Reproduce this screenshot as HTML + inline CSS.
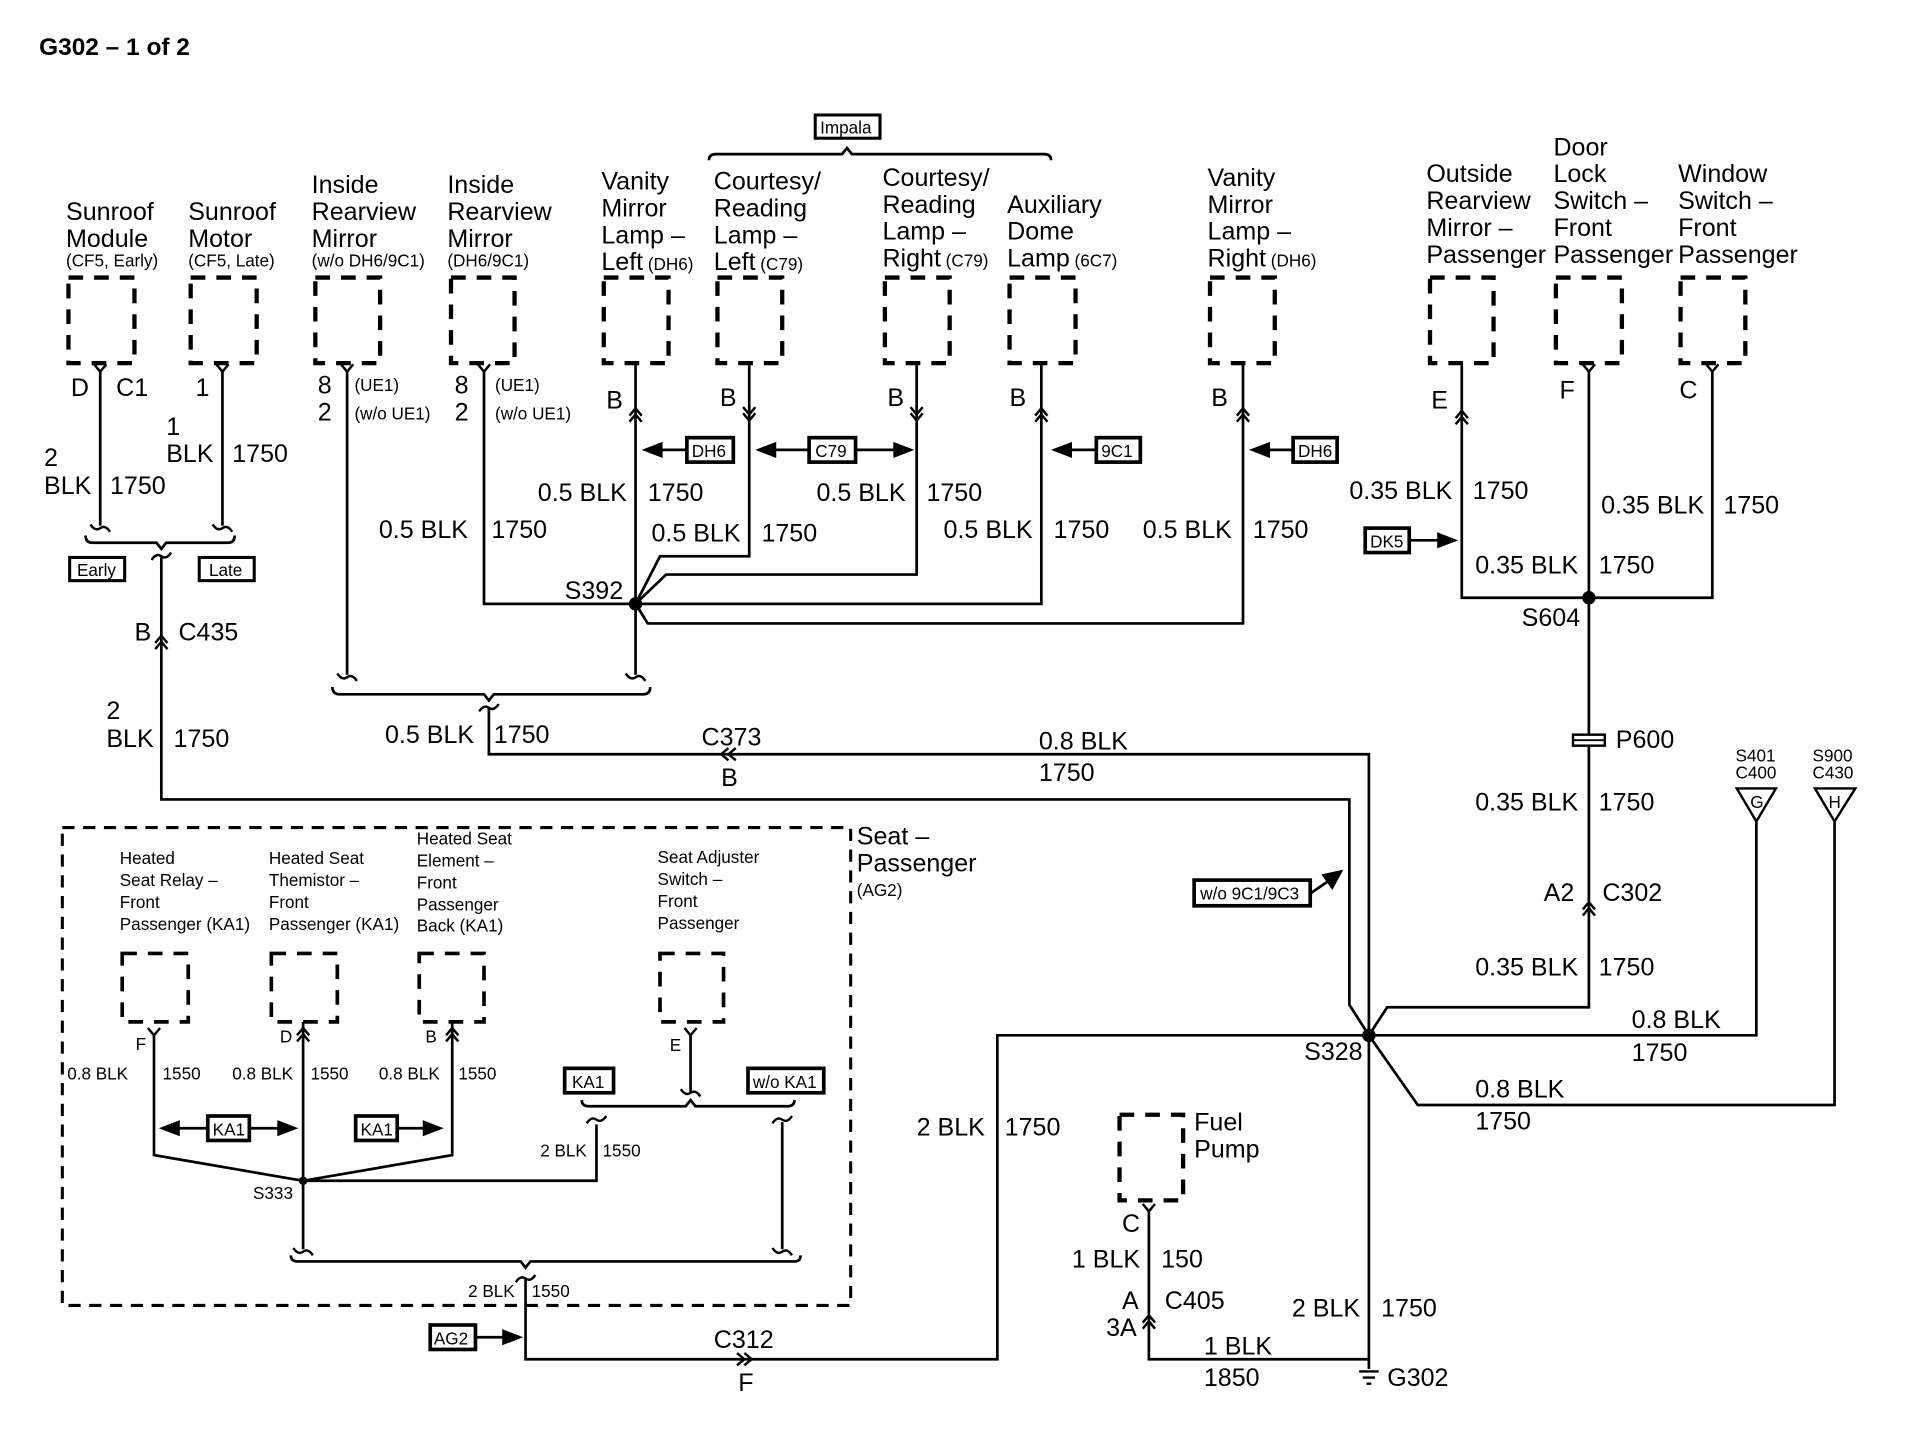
<!DOCTYPE html>
<html><head><meta charset="utf-8"><style>
html,body{margin:0;padding:0;background:#fff}
svg{display:block}
text{font-family:"Liberation Sans",Arial,sans-serif;fill:#000}
.t{font-size:20.5px}
.s{font-size:14px}
.m{font-size:14px}
.b{font-weight:bold;font-size:20px}
.w{fill:none;stroke:#000;stroke-width:2.2}
.d{fill:none;stroke:#000;stroke-width:3.5;stroke-dasharray:12 9}
.x{fill:#fff;stroke:#000;stroke-width:3}
</style></head><body>
<svg width="1914" height="1440" viewBox="0 0 1566 1178" xmlns="http://www.w3.org/2000/svg">
<defs>
<path id="up" d="M-5 7 L0 1 L5 7 M-5 12 L0 6 L5 12" fill="none" stroke="#000" stroke-width="2"/>
<path id="dn" d="M-5 -7 L0 -1 L5 -7 M-5 -12 L0 -6 L5 -12" fill="none" stroke="#000" stroke-width="2"/>
<path id="fk" d="M-5 -6 L0 0 L5 -6" fill="none" stroke="#000" stroke-width="2"/>
<path id="tl" d="M-8 -3 Q-4 3 0 0 Q4 -3 8 3" fill="none" stroke="#000" stroke-width="2"/>
<path id="ts" d="M-8 3 Q-4 -3 0 0 Q4 3 8 -3" fill="none" stroke="#000" stroke-width="2"/>
</defs>
<text x="32" y="45" class="b">G302 – 1 of 2</text>

<!-- top boxes -->
<g class="d">
<rect x="56" y="227" width="54" height="70"/><rect x="156" y="227" width="54" height="70"/>
<rect x="258" y="227" width="53" height="70"/><rect x="369" y="227" width="52" height="70"/>
<rect x="494" y="227" width="53" height="70"/><rect x="587" y="227" width="53" height="70"/>
<rect x="724" y="227" width="53" height="70"/><rect x="826" y="227" width="54" height="70"/>
<rect x="990" y="227" width="53" height="70"/><rect x="1170" y="227" width="52" height="70"/>
<rect x="1273" y="227" width="54" height="70"/><rect x="1375" y="227" width="53" height="70"/>
</g>
<g class="t">
<text x="54" y="180">Sunroof</text><text x="54" y="202">Module</text>
<text x="154" y="180">Sunroof</text><text x="154" y="202">Motor</text>
<text x="255" y="158">Inside</text><text x="255" y="180">Rearview</text><text x="255" y="202">Mirror</text>
<text x="366" y="158">Inside</text><text x="366" y="180">Rearview</text><text x="366" y="202">Mirror</text>
<text x="492" y="155">Vanity</text><text x="492" y="177">Mirror</text><text x="492" y="199">Lamp –</text><text x="492" y="221">Left<tspan class="s"> (DH6)</tspan></text>
<text x="584" y="155">Courtesy/</text><text x="584" y="177">Reading</text><text x="584" y="199">Lamp –</text><text x="584" y="221">Left<tspan class="s"> (C79)</tspan></text>
<text x="722" y="152">Courtesy/</text><text x="722" y="174">Reading</text><text x="722" y="196">Lamp –</text><text x="722" y="218">Right<tspan class="s"> (C79)</tspan></text>
<text x="824" y="174">Auxiliary</text><text x="824" y="196">Dome</text><text x="824" y="218">Lamp<tspan class="s"> (6C7)</tspan></text>
<text x="988" y="152">Vanity</text><text x="988" y="174">Mirror</text><text x="988" y="196">Lamp –</text><text x="988" y="218">Right<tspan class="s"> (DH6)</tspan></text>
<text x="1167" y="149">Outside</text><text x="1167" y="171">Rearview</text><text x="1167" y="193">Mirror –</text><text x="1167" y="215">Passenger</text>
<text x="1271" y="127">Door</text><text x="1271" y="149">Lock</text><text x="1271" y="171">Switch –</text><text x="1271" y="193">Front</text><text x="1271" y="215">Passenger</text>
<text x="1373" y="149">Window</text><text x="1373" y="171">Switch –</text><text x="1373" y="193">Front</text><text x="1373" y="215">Passenger</text>
</g>
<g class="s">
<text x="54" y="218">(CF5, Early)</text><text x="154" y="218">(CF5, Late)</text>
<text x="255" y="218">(w/o DH6/9C1)</text><text x="366" y="218">(DH6/9C1)</text>
</g>
<!-- Impala -->
<rect x="667" y="94" width="53" height="19" class="x" style="stroke-width:2.5"/><text x="671" y="109" class="s">Impala</text>
<path class="w" d="M580 131 Q580 126 586 126 L689 126 L693 121 L697 126 L854 126 Q860 126 860 131"/>

<!-- sunroof wires -->
<path class="w" d="M82 303 V430 M182 303 V430 M132 455 V654 H1104 V822 L1120 847"/>
<use href="#fk" x="82" y="304"/><use href="#fk" x="182" y="304"/>
<use href="#tl" x="82" y="432"/><use href="#tl" x="182" y="432"/>
<path class="w" d="M70 438 Q70 444 76 444 L128 444 L132 449 L136 444 L186 444 Q192 444 192 438"/>
<use href="#ts" x="132" y="455"/>
<use href="#up" x="132" y="519"/>
<g class="t">
<text x="58" y="324">D</text><text x="95" y="324">C1</text><text x="160" y="324">1</text>
<text x="136" y="356">1</text><text x="136" y="378">BLK</text><text x="190" y="378">1750</text>
<text x="36" y="381">2</text><text x="36" y="404">BLK</text><text x="90" y="404">1750</text>
<text x="110" y="524">B</text><text x="146" y="524">C435</text>
<text x="87" y="588">2</text><text x="87" y="611">BLK</text><text x="142" y="611">1750</text>
</g>
<rect x="57" y="456" width="45" height="19" class="x" style="stroke-width:2.5"/><text x="63" y="471" class="m">Early</text>
<rect x="163" y="456" width="45" height="19" class="x" style="stroke-width:2.5"/><text x="171" y="471" class="m">Late</text>

<!-- inside mirrors -->
<path class="w" d="M284 303 V552 M396 303 V494 H520"/>
<use href="#fk" x="284" y="304"/><use href="#fk" x="396" y="304"/>
<use href="#tl" x="284" y="554"/><use href="#tl" x="520" y="554"/>
<path class="w" d="M272 562 Q272 568 278 568 L396 568 L400 573 L404 568 L526 568 Q532 568 532 562"/>
<use href="#ts" x="400" y="579"/>
<path class="w" d="M400 579 V617 H1120 V847"/>
<g class="t">
<text x="260" y="322">8</text><text x="260" y="344">2</text>
<text x="372" y="322">8</text><text x="372" y="344">2</text>
<text x="310" y="440">0.5 BLK</text><text x="402" y="440">1750</text>
<text x="315" y="608">0.5 BLK</text><text x="404" y="608">1750</text>
<text x="574" y="610">C373</text><text x="590" y="643">B</text>
<text x="850" y="613">0.8 BLK</text><text x="850" y="639">1750</text>
</g>
<path d="M596 612 L590 617 L596 622 M602 612 L596 617 L602 622" fill="none" stroke="#000" stroke-width="2"/>
<g class="s"><text x="290" y="320">(UE1)</text><text x="290" y="343">(w/o UE1)</text><text x="405" y="320">(UE1)</text><text x="405" y="343">(w/o UE1)</text></g>

<!-- S392 group -->
<path class="w" d="M520 297 V552 M613 297 V455 H540 L520 494 M750 297 V470 H545 L520 494 M852 297 V494 H520 M1017 297 V510 H530 L520 494"/>
<circle cx="520" cy="494" r="5.5"/>
<use href="#up" x="520" y="333"/><use href="#dn" x="613" y="345"/><use href="#dn" x="750" y="345"/>
<use href="#up" x="852" y="333"/><use href="#up" x="1017" y="333"/>
<g class="t">
<text x="496" y="334">B</text><text x="589" y="332">B</text><text x="726" y="332">B</text><text x="826" y="332">B</text><text x="991" y="332">B</text>
<text x="440" y="410">0.5 BLK</text><text x="530" y="410">1750</text>
<text x="533" y="443">0.5 BLK</text><text x="623" y="443">1750</text>
<text x="668" y="410">0.5 BLK</text><text x="758" y="410">1750</text>
<text x="772" y="440">0.5 BLK</text><text x="862" y="440">1750</text>
<text x="935" y="440">0.5 BLK</text><text x="1025" y="440">1750</text>
<text x="462" y="490">S392</text>
</g>
<!-- option arrows -->
<g stroke="#000" stroke-width="2.2" fill="#000">
<path d="M540 368 H562"/><path d="M528 368 L541 363 L541 373 Z"/>
<path d="M633 368 H662 M700 368 H733"/><path d="M621 368 L634 363 L634 373 Z"/><path d="M745 368 L732 363 L732 373 Z"/>
<path d="M875 368 H897"/><path d="M863 368 L876 363 L876 373 Z"/>
<path d="M1037 368 H1058"/><path d="M1025 368 L1038 363 L1038 373 Z"/>
<path d="M1153 442 H1178"/><path d="M1190 442 L1177 437 L1177 447 Z"/>
<path d="M389 1094 H413"/><path d="M425 1094 L412 1089 L412 1099 Z"/>
<path d="M1072 731 L1088 720"/><path d="M1097 713 L1083 716 L1090 726 Z"/>
</g>
<g class="m">
<rect x="562" y="358" width="38" height="20" class="x"/><text x="566" y="374">DH6</text>
<rect x="662" y="358" width="38" height="20" class="x"/><text x="667" y="374">C79</text>
<rect x="897" y="358" width="36" height="20" class="x"/><text x="901" y="374">9C1</text>
<rect x="1058" y="358" width="36" height="20" class="x"/><text x="1062" y="374">DH6</text>
<rect x="1117" y="432" width="36" height="20" class="x"/><text x="1121" y="448">DK5</text>
<rect x="352" y="1084" width="37" height="20" class="x"/><text x="355" y="1100">AG2</text>
<rect x="977" y="720" width="95" height="21" class="x"/><text x="982" y="736">w/o 9C1/9C3</text>
</g>

<!-- right top -->
<path class="w" d="M1196 297 V489 H1401 V303 M1300 303 V601 M1300 611 V824 H1135 L1120 847"/>
<use href="#up" x="1196" y="335"/><use href="#fk" x="1300" y="304"/><use href="#fk" x="1401" y="304"/>
<circle cx="1300" cy="489" r="5.5"/>
<rect x="1287" y="601" width="26" height="9" fill="#fff" stroke="#000" stroke-width="2"/>
<path d="M1287 605.5 H1313" stroke="#000" stroke-width="1.5"/>
<use href="#up" x="1300" y="737"/>
<g class="t">
<text x="1171" y="334">E</text><text x="1276" y="326">F</text><text x="1374" y="326">C</text>
<text x="1104" y="408">0.35 BLK</text><text x="1205" y="408">1750</text>
<text x="1310" y="420">0.35 BLK</text><text x="1410" y="420">1750</text>
<text x="1207" y="469">0.35 BLK</text><text x="1308" y="469">1750</text>
<text x="1245" y="512">S604</text><text x="1322" y="612">P600</text>
<text x="1207" y="663">0.35 BLK</text><text x="1308" y="663">1750</text>
<text x="1263" y="737">A2</text><text x="1311" y="737">C302</text>
<text x="1207" y="798">0.35 BLK</text><text x="1308" y="798">1750</text>
<text x="1335" y="841">0.8 BLK</text><text x="1335" y="868">1750</text>
<text x="1207" y="898">0.8 BLK</text><text x="1207" y="924">1750</text>
<text x="1067" y="867">S328</text>
<text x="1057" y="1077">2 BLK</text><text x="1130" y="1077">1750</text>
<text x="1135" y="1134">G302</text>
</g>
<g class="s"><text x="1420" y="623">S401</text><text x="1420" y="637">C400</text><text x="1483" y="623">S900</text><text x="1483" y="637">C430</text></g>
<path d="M1421 645 H1453 L1437 672 Z" fill="#fff" stroke="#000" stroke-width="2"/><text x="1432" y="661" class="m">G</text>
<path d="M1485 645 H1518 L1501 672 Z" fill="#fff" stroke="#000" stroke-width="2"/><text x="1496" y="661" class="m">H</text>
<path class="w" d="M1437 672 V847 H1120 M1501 672 V904 H1160 L1120 847 M1120 847 V1120"/>
<circle cx="1120" cy="847" r="5.5"/>
<path d="M1112 1122 H1128 M1115 1127 H1125 M1118 1132 H1122" stroke="#000" stroke-width="2"/>

<!-- fuel pump & C312 -->
<rect x="916" y="912" width="52" height="70" class="d"/>
<text x="977" y="925" class="t">Fuel</text><text x="977" y="947" class="t">Pump</text>
<path class="w" d="M940 990 V1112 H1120 M430 1045 V1112 H816 V847 H1120"/>
<use href="#fk" x="940" y="991"/><use href="#up" x="940" y="1075"/>
<path d="M603 1107 L609 1112 L603 1117 M609 1107 L615 1112 L609 1117" fill="none" stroke="#000" stroke-width="2"/>
<g class="t">
<text x="918" y="1008">C</text><text x="877" y="1037">1 BLK</text><text x="950" y="1037">150</text>
<text x="918" y="1071">A</text><text x="953" y="1071">C405</text><text x="905" y="1093">3A</text>
<text x="985" y="1108">1 BLK</text><text x="985" y="1134">1850</text>
<text x="750" y="929">2 BLK</text><text x="822" y="929">1750</text>
<text x="584" y="1103">C312</text><text x="604" y="1138">F</text>
</g>

<!-- seat passenger -->
<rect x="51" y="677" width="645" height="391" class="d" style="stroke-width:2.5;stroke-dasharray:10 7"/>
<text x="701" y="691" class="t">Seat –</text><text x="701" y="713" class="t">Passenger</text><text x="701" y="733" class="s">(AG2)</text>
<g class="m">
<text x="98" y="707">Heated</text><text x="98" y="725">Seat Relay –</text><text x="98" y="743">Front</text><text x="98" y="761">Passenger (KA1)</text>
<text x="220" y="707">Heated Seat</text><text x="220" y="725">Themistor –</text><text x="220" y="743">Front</text><text x="220" y="761">Passenger (KA1)</text>
<text x="341" y="691">Heated Seat</text><text x="341" y="709">Element –</text><text x="341" y="727">Front</text><text x="341" y="745">Passenger</text><text x="341" y="762">Back (KA1)</text>
<text x="538" y="706">Seat Adjuster</text><text x="538" y="724">Switch –</text><text x="538" y="742">Front</text><text x="538" y="760">Passenger</text>
<text x="111" y="859">F</text><text x="229" y="853">D</text><text x="348" y="853">B</text><text x="548" y="860">E</text>
<text x="55" y="883">0.8 BLK</text><text x="133" y="883">1550</text>
<text x="190" y="883">0.8 BLK</text><text x="254" y="883">1550</text>
<text x="310" y="883">0.8 BLK</text><text x="375" y="883">1550</text>
<text x="207" y="981">S333</text>
<text x="442" y="946">2 BLK</text><text x="493" y="946">1550</text>
<text x="383" y="1061">2 BLK</text><text x="435" y="1061">1550</text>
</g>
<g class="d" style="stroke-width:3"><rect x="100" y="780" width="54" height="56"/><rect x="222" y="780" width="54" height="56"/><rect x="343" y="780" width="53" height="56"/><rect x="540" y="780" width="52" height="56"/></g>
<path class="w" d="M126 846 V945 L248 966 M248 836 V1022 M370 836 V945 L248 966 H488 V920 M565 846 V893 M640 918 V1022"/>
<circle cx="248" cy="966" r="3.5"/>
<use href="#fk" x="126" y="847"/><use href="#up" x="248" y="840"/><use href="#up" x="370" y="840"/><use href="#fk" x="565" y="847"/>
<use href="#tl" x="565" y="894"/><use href="#ts" x="488" y="916"/><use href="#ts" x="640" y="916"/>
<use href="#tl" x="248" y="1024"/><use href="#tl" x="640" y="1024"/>
<path class="w" d="M476 900 Q476 905 482 905 L561 905 L565 900 L569 905 L644 905 Q650 905 650 900"/>
<path class="w" d="M238 1027 Q238 1032 244 1032 L426 1032 L430 1037 L434 1032 L650 1032 Q655 1032 655 1027"/>
<use href="#ts" x="430" y="1046"/>
<g stroke="#000" stroke-width="2.2" fill="#000">
<path d="M145 923 H170 M204 923 H229"/><path d="M133 923 L146 918 L146 928 Z"/><path d="M241 923 L228 918 L228 928 Z"/>
<path d="M325 923 H348"/><path d="M360 923 L347 918 L347 928 Z"/>
</g>
<g class="m">
<rect x="170" y="913" width="34" height="20" class="x"/><text x="174" y="929">KA1</text>
<rect x="291" y="913" width="34" height="20" class="x"/><text x="295" y="929">KA1</text>
<rect x="462" y="874" width="40" height="20" class="x"/><text x="468" y="890">KA1</text>
<rect x="612" y="874" width="62" height="20" class="x"/><text x="616" y="890">w/o KA1</text>
</g>
</svg>
</body></html>
